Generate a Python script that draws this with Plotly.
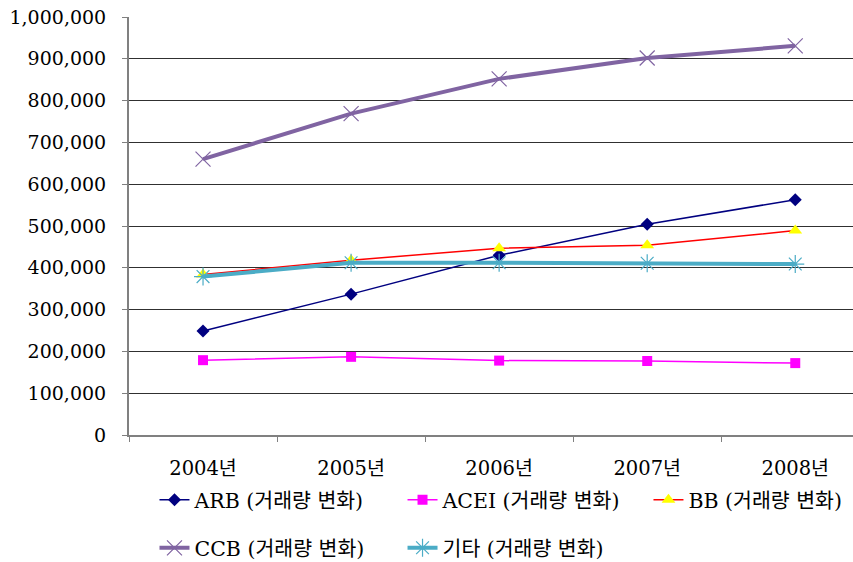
import plotly.graph_objects as go

# Category labels (years)
years = ["2004년", "2005년", "2006년", "2007년", "2008년"]

# Trading volume by instrument
arb = [249000, 337000, 430000, 504000, 563000]
acei = [179000, 187000, 178000, 177000, 172000]
bb = [384000, 418000, 447000, 454000, 489000]
ccb = [660000, 769000, 852000, 902000, 931000]
etc = [379000, 412000, 412000, 411000, 409000]

y_ticks = [0, 100000, 200000, 300000, 400000, 500000, 600000, 700000, 800000, 900000, 1000000]

FONT = "DejaVu Serif, Noto Sans CJK KR, serif"

fig = go.Figure()

fig.add_trace(go.Scatter(
    x=years, y=arb, name="ARB (거래량 변화)", mode="lines+markers",
    line=dict(color="#000080", width=1.5),
    marker=dict(symbol="diamond", size=10, color="#000080"),
    legend="legend",
))
fig.add_trace(go.Scatter(
    x=years, y=acei, name="ACEI (거래량 변화)", mode="lines+markers",
    line=dict(color="#FF00FF", width=1.5),
    marker=dict(symbol="square", size=10, color="#FF00FF"),
    legend="legend2",
))
fig.add_trace(go.Scatter(
    x=years, y=bb, name="BB (거래량 변화)", mode="lines+markers",
    line=dict(color="#FF0000", width=1.5),
    marker=dict(symbol="triangle-up", size=12, color="#FFFF00"),
    legend="legend3",
))
fig.add_trace(go.Scatter(
    x=years, y=ccb, name="CCB (거래량 변화)", mode="lines+markers",
    line=dict(color="#8064A2", width=4),
    marker=dict(symbol="x-thin-open", size=15, line=dict(color="#A898CC", width=1.2)),
    legend="legend4",
))
fig.add_trace(go.Scatter(
    x=years, y=etc, name="기타 (거래량 변화)", mode="lines+markers",
    line=dict(color="#4BACC6", width=4),
    marker=dict(symbol="asterisk-open", size=15, line=dict(color="#8ED3E8", width=1.2)),
    legend="legend5",
))

legend_common = dict(
    orientation="h",
    font=dict(family=FONT, size=20.5, color="#000000"),
    bgcolor="rgba(0,0,0,0)",
    itemwidth=30,
    xanchor="left",
    yanchor="middle",
    visible=True,
)

col_x = [0.0352, 0.3778, 0.7175]
row_y = [-0.1555, -0.2703]

fig.update_layout(
    width=853,
    height=562,
    showlegend=True,
    margin=dict(l=129, r=0, t=17, b=127, autoexpand=False),
    paper_bgcolor="#FFFFFF",
    plot_bgcolor="#FFFFFF",
    font=dict(family=FONT, size=18, color="#000000"),
    legend=dict(x=col_x[0], y=row_y[0], **legend_common),
    legend2=dict(x=col_x[1], y=row_y[0], **legend_common),
    legend3=dict(x=col_x[2], y=row_y[0], **legend_common),
    legend4=dict(x=col_x[0], y=row_y[1], **legend_common),
    legend5=dict(x=col_x[1], y=row_y[1], **legend_common),
    xaxis=dict(
        type="category",
        range=[-0.5, 4.39],
        showgrid=False,
        showline=True,
        linecolor="#808080",
        linewidth=2,
        ticks="outside",
        tickson="boundaries",
        ticklen=5,
        tickcolor="#808080",
        tickfont=dict(family=FONT, size=19.5),
        ticklabelstandoff=15,
    ),
    yaxis=dict(
        range=[0, 1000000],
        tickvals=y_ticks,
        tickformat=",d",
        showgrid=True,
        gridcolor="#303030",
        gridwidth=1,
        showline=True,
        linecolor="#808080",
        linewidth=2,
        ticks="outside",
        ticklen=5,
        tickcolor="#808080",
        tickfont=dict(family=FONT, size=19),
        ticklabelstandoff=12,
        zeroline=False,
    ),
)

fig.write_html("out.html")
